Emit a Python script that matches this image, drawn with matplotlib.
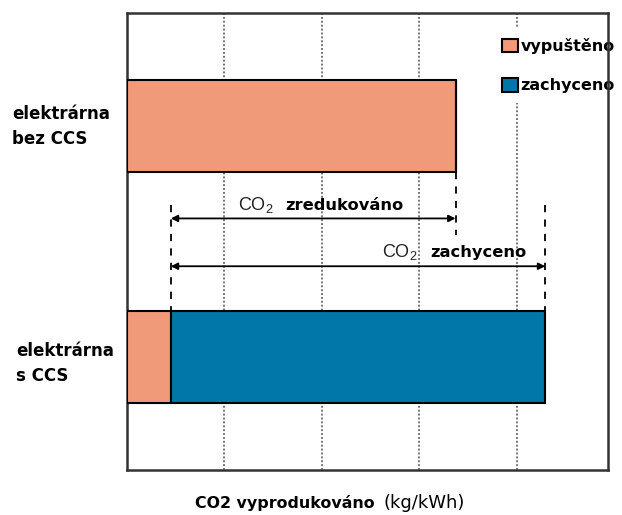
import matplotlib.pyplot as plt
from matplotlib.patches import Patch
from matplotlib.transforms import blended_transform_factory

# CO2 per kWh for the two plant types
plants = ["elektrárna\nbez CCS", "elektrárna\ns CCS"]
plant_y = [1, 0]
emitted = [3.37, 0.45]
captured = [0.0, 3.84]

series_names = ["vypuštěno", "zachyceno"]
colors = ["#F09A7A", "#0077A8"]

x_label_main = "CO2 vyprodukováno"
x_label_unit = "(kg/kWh)"

plt.rcParams["mathtext.fontset"] = "custom"
bold = dict(family="DejaVu Sans", fontweight="bold")

fig = plt.figure(figsize=(6.22, 5.15), dpi=100)
ax = fig.add_axes([0.204, 0.087, 0.773, 0.888])
ax.set_axisbelow(True)

bar_h = 0.4
ax.barh(plant_y, emitted, height=bar_h, color=colors[0], edgecolor="black",
        linewidth=1.5, zorder=3)
ax.barh(plant_y, captured, left=emitted, height=bar_h, color=colors[1],
        edgecolor="black", linewidth=1.5, zorder=3)

ax.set_xlim(0, 4.93)
ax.set_ylim(-0.49, 1.49)
ax.set_xticks([1, 2, 3, 4])
ax.set_xticklabels([])
ax.set_yticks([])
ax.tick_params(axis="x", length=0)
ax.grid(axis="x", linestyle=(0, (1, 1)), color="#777777", linewidth=1.4)

for s in ax.spines.values():
    s.set_color("#333333")
    s.set_linewidth(1.8)

# plant names, left aligned near the figure edge
name_tr = blended_transform_factory(fig.transFigure, ax.transData)
ax.text(0.019, plant_y[0], plants[0], transform=name_tr, fontsize=12,
        linespacing=1.5, va="center", ha="left", **bold)
ax.text(0.026, plant_y[1] - 0.028, plants[1], transform=name_tr, fontsize=12,
        linespacing=1.5, va="center", ha="left", **bold)

# dimension lines for reduced and captured CO2
red_end = emitted[0]
cap_start = emitted[1]
cap_end = emitted[1] + captured[1]
dash = dict(color="black", linestyle=(0, (4, 4)), linewidth=1.3, zorder=4)
ax.plot([red_end, red_end], [0.8, 0.53], **dash)
ax.plot([cap_start, cap_start], [0.66, 0.2], **dash)
ax.plot([cap_end, cap_end], [0.66, 0.2], **dash)

arrow = dict(arrowstyle="<|-|>", color="black", lw=1.3, mutation_scale=10,
             shrinkA=0, shrinkB=0)
ax.annotate("", xy=(cap_start, 0.6), xytext=(red_end, 0.6), arrowprops=arrow,
            zorder=5)
ax.annotate("", xy=(cap_start, 0.393), xytext=(cap_end, 0.393), arrowprops=arrow,
            zorder=5)

ax.text(1.14, 0.638, r"CO$_\mathregular{2}$", family="Liberation Sans",
        fontsize=13, color="#222222", va="baseline")
ax.text(1.62, 0.638, "zredukováno", fontsize=11.7, color="black",
        va="baseline", **bold)
ax.text(2.615, 0.435, r"CO$_\mathregular{2}$", family="Liberation Sans",
        fontsize=13, color="#222222", va="baseline")
ax.text(3.11, 0.435, "zachyceno", fontsize=11.7, color="black",
        va="baseline", **bold)

handles = [Patch(facecolor=c, edgecolor="black", linewidth=1.5) for c in colors]
leg = ax.legend(handles, series_names, loc="upper left",
                bbox_to_anchor=(0.761, 0.966), frameon=True, fancybox=False,
                handlelength=0.95, handleheight=0.95, handletextpad=0.2,
                labelspacing=1.5, borderaxespad=0, borderpad=0.6,
                prop={"family": "DejaVu Sans", "weight": "bold", "size": 11.5})
leg.get_frame().set_facecolor("white")
leg.get_frame().set_edgecolor("none")
leg.get_frame().set_alpha(1)
leg.set_zorder(2)

fig.text(0.3135, 0.0136, x_label_main, fontsize=11.4, va="baseline", **bold)
fig.text(0.616, 0.0136, x_label_unit, family="DejaVu Sans", fontsize=13,
         va="baseline")

fig.savefig("out.png", dpi=100)
